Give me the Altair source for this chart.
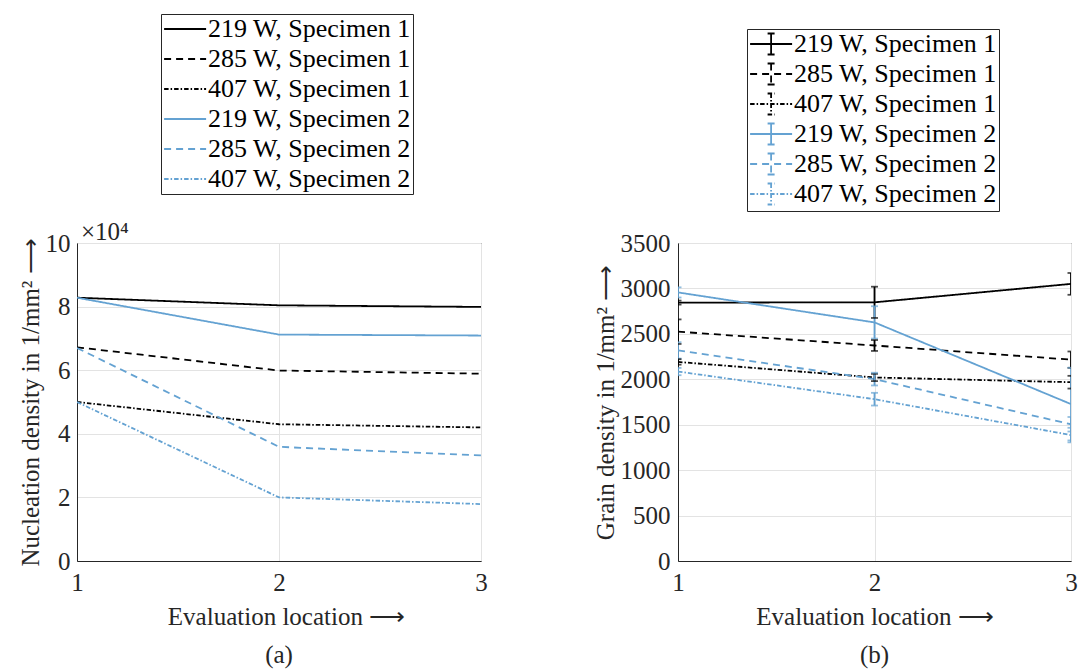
import altair as alt
import pandas as pd

SERIF = "Liberation Serif"
DARK = "#262626"
BLUE = "#64a2d2"
GRID = "#e3e3e3"

series_names = [
    "219 W, Specimen 1", "285 W, Specimen 1", "407 W, Specimen 1",
    "219 W, Specimen 2", "285 W, Specimen 2", "407 W, Specimen 2",
]
locations = [1, 2, 3]

# Nucleation density (1/mm^2)
nuc_219_s1 = [82800, 80400, 79900]
nuc_285_s1 = [67200, 59900, 58900]
nuc_407_s1 = [50000, 43000, 42000]
nuc_219_s2 = [82800, 71200, 70900]
nuc_285_s2 = [67000, 35900, 33200]
nuc_407_s2 = [50000, 20000, 17900]

# Grain density (1/mm^2) and error
grain_219_s1 = [2844, 2847, 3050]
grain_285_s1 = [2524, 2372, 2216]
grain_407_s1 = [2191, 2020, 1968]
grain_219_s2 = [2956, 2626, 1727]
grain_285_s2 = [2318, 2002, 1505]
grain_407_s2 = [2085, 1781, 1386]
err_219_s1 = [22, 172, 120]
err_285_s1 = [135, 60, 90]
err_407_s1 = [30, 40, 70]
err_219_s2 = [56, 178, 400]
err_285_s2 = [90, 70, 80]
err_407_s2 = [40, 70, 80]

nuc_all = [nuc_219_s1, nuc_285_s1, nuc_407_s1, nuc_219_s2, nuc_285_s2, nuc_407_s2]
grain_all = [grain_219_s1, grain_285_s1, grain_407_s1, grain_219_s2, grain_285_s2, grain_407_s2]
err_all = [err_219_s1, err_285_s1, err_407_s1, err_219_s2, err_285_s2, err_407_s2]

nuc_rows = []
grain_rows = []
for name, nv, gv, ev in zip(series_names, nuc_all, grain_all, err_all):
    for loc, n, g, e in zip(locations, nv, gv, ev):
        nuc_rows.append({"loc": loc, "val": n, "series": name})
        grain_rows.append({"loc": loc, "val": g, "lo": g - e, "hi": g + e, "series": name})
nuc_df = pd.DataFrame(nuc_rows)
grain_df = pd.DataFrame(grain_rows)
mult_df = pd.DataFrame({"loc": [1], "val": [100000], "txt": ["×10⁴"]})

color_range = ["#000000", "#000000", "#000000", BLUE, BLUE, BLUE]
dash_range = [[1, 0], [7, 5], [4.5, 2, 1.5, 2], [1, 0], [7, 5], [4.5, 2, 1.5, 2]]
color_scale = alt.Scale(domain=series_names, range=color_range)
dash_scale = alt.Scale(domain=series_names, range=dash_range)

axis_common = dict(
    grid=True, gridColor=GRID, gridWidth=1, ticks=False, tickSize=0,
    domainColor=DARK, labelFont=SERIF, labelFontSize=25, labelColor=DARK,
    titleFont=SERIF, titleFontSize=25, titleColor=DARK, titleFontWeight="normal",
    labelOverlap=False, labelFlush=False,
)

W1, W2, H = 404, 393, 318
ARROW = "⟶"
LW = 1.8


def x_enc(width, shift):
    return alt.X(
        "loc:Q",
        scale=alt.Scale(domain=[min(locations), max(locations)], nice=False, zero=False),
        axis=alt.Axis(tickCount=len(locations) - 1, format="d",
                      title="Evaluation location " + ARROW,
                      labelPadding=9, titleX=width / 2 + shift, titleY=63,
                      titleBaseline="alphabetic", titleAlign="center", **axis_common),
    )


def make_legend(lx, ly, symbol, row_pad):
    return alt.Legend(
        title=None, orient="none", legendX=lx, legendY=ly, direction="vertical",
        symbolType=symbol, symbolSize=196, symbolStrokeWidth=LW,
        labelFont=SERIF, labelFontSize=26, labelColor="black", labelOffset=19,
        labelLimit=400, rowPadding=row_pad, padding=2, strokeColor=DARK,
        fillColor="white",
    )


# ---------- Panel (a) ----------
y_nuc_axis = alt.Axis(values=[0, 20000, 40000, 60000, 80000, 100000],
                      labelExpr="datum.value/10000", labelPadding=7,
                      title="Nucleation density in 1/mm² " + ARROW, titleAngle=270,
                      titleX=-39, titleY=H / 2, titleBaseline="alphabetic",
                      titleAlign="center", **axis_common)
y_nuc = alt.Y("val:Q", scale=alt.Scale(domain=[0, 100000], nice=False), axis=y_nuc_axis)
xa = x_enc(W1, 7)
leg_a = make_legend(84, -229, "M-1.7,0H4.3", 4)

lines_a = alt.Chart(nuc_df).mark_line(strokeWidth=LW, clip=True).encode(
    x=xa, y=y_nuc,
    color=alt.Color("series:N", scale=color_scale, legend=leg_a),
    strokeDash=alt.StrokeDash("series:N", scale=dash_scale, legend=leg_a),
)
mult_a = alt.Chart(mult_df).mark_text(
    align="left", baseline="alphabetic", dx=4, dy=-3, font=SERIF, fontSize=25, color=DARK
).encode(x=xa, y=y_nuc, text="txt:N")

panel_a = alt.layer(lines_a, mult_a).properties(
    width=W1, height=H,
    title=alt.TitleParams("(a)", orient="bottom", anchor="middle", font=SERIF,
                          fontSize=25, fontWeight="normal", color=DARK, offset=14),
)

# ---------- Panel (b) ----------
y_grain_axis = alt.Axis(values=list(range(0, 3501, 500)), format="d",
                        labelPadding=8,
                        title="Grain density in 1/mm² " + ARROW, titleAngle=270,
                        titleX=-65, titleY=H / 2, titleBaseline="alphabetic",
                        titleAlign="center", **axis_common)
g_scale = alt.Scale(domain=[0, 3500], nice=False)
xb = x_enc(W2, 0)
leg_b = make_legend(69, -214, "M-1.7,0H4.3M1.3,-1.5V1.5M0.8,-1.5H1.8M0.8,1.5H1.8", 0)

lines_b = alt.Chart(grain_df).mark_line(strokeWidth=LW, clip=True).encode(
    x=xb, y=alt.Y("val:Q", scale=g_scale, axis=y_grain_axis),
    color=alt.Color("series:N", scale=color_scale, legend=leg_b),
    strokeDash=alt.StrokeDash("series:N", scale=dash_scale, legend=leg_b),
)
rules_b = alt.Chart(grain_df).mark_rule(strokeWidth=LW, clip=True).encode(
    x=xb, y=alt.Y("lo:Q", scale=g_scale, axis=y_grain_axis), y2="hi:Q",
    color=alt.Color("series:N", scale=color_scale, legend=None),
)
cap_lo = alt.Chart(grain_df).mark_tick(orient="horizontal", size=7, thickness=LW, clip=True).encode(
    x=xb, y=alt.Y("lo:Q", scale=g_scale, axis=y_grain_axis),
    color=alt.Color("series:N", scale=color_scale, legend=None),
)
cap_hi = alt.Chart(grain_df).mark_tick(orient="horizontal", size=7, thickness=LW, clip=True).encode(
    x=xb, y=alt.Y("hi:Q", scale=g_scale, axis=y_grain_axis),
    color=alt.Color("series:N", scale=color_scale, legend=None),
)

panel_b = alt.layer(lines_b, rules_b, cap_lo, cap_hi).properties(
    width=W2, height=H,
    title=alt.TitleParams("(b)", orient="bottom", anchor="middle", font=SERIF,
                          fontSize=25, fontWeight="normal", color=DARK, offset=14),
)

chart = alt.hconcat(panel_a, panel_b, spacing=197, bounds="flush").resolve_scale(
    color="independent", strokeDash="independent"
).properties(
    padding={"left": 17, "top": 13, "right": 2, "bottom": 2},
    background="white",
).configure_view(
    stroke=DARK, strokeWidth=1
).configure_legend(
    labelFont=SERIF, labelFontSize=26, labelColor="black"
)

chart.save("out.html", embed_options={"renderer": "svg", "actions": False})
